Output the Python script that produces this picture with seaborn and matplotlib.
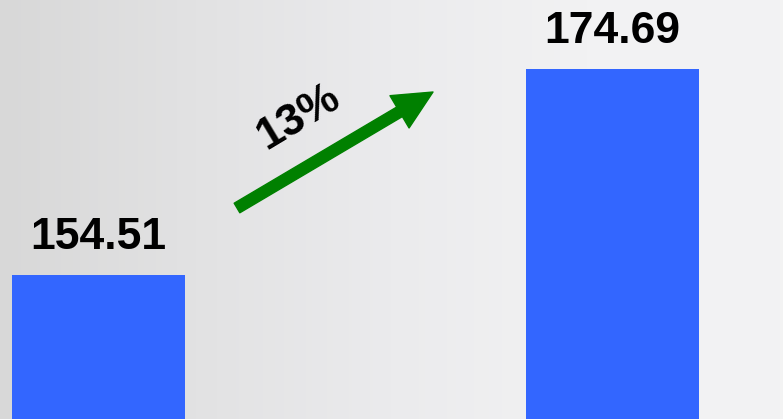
import numpy as np
import pandas as pd
import matplotlib
matplotlib.use("Agg")
import matplotlib.pyplot as plt
import seaborn as sns
from matplotlib.colors import LinearSegmentedColormap

categories = ["Period 1", "Period 2"]
values = [154.51, 174.69]
value_labels = ["154.51", "174.69"]
growth_label = "13%"

sns.set_theme(style="white")
plt.rcParams["font.family"] = ["Liberation Sans", "DejaVu Sans"]

df = pd.DataFrame({"category": categories, "value": values})

fig = plt.figure(figsize=(7.83, 4.19), dpi=100)

# background gradient
bg = fig.add_axes([0, 0, 1, 1], zorder=0)
grad = np.linspace(0, 1, 256)
grad = np.vstack([grad, grad])
cmap = LinearSegmentedColormap.from_list("bg", ["#d8d8d8", "#e2e2e3", "#ebebed", "#f2f2f3", "#f3f3f3"])
bg.imshow(grad, aspect="auto", cmap=cmap, extent=[0, 1, 0, 1])
bg.set_axis_off()

ax = fig.add_axes([0, 0, 1, 1], zorder=1)
ax.patch.set_alpha(0)
sns.barplot(data=df, x="category", y="value", color="#3366FF", saturation=1,
            width=0.337, linewidth=0, edgecolor="none", ax=ax)
ax.set_xlim(-0.1916, 1.3317)
ax.set_ylim(140.40, 181.45)
ax.set_axis_off()

for i, (v, lab) in enumerate(zip(values, value_labels)):
    ax.annotate(lab, xy=(i, v), xytext=(0, 18.5), textcoords="offset points",
                ha="center", va="baseline", fontsize=32, fontweight="bold",
                color="black")

ax.annotate("", xy=(0.553, 0.7804), xytext=(0.3027, 0.5036),
            xycoords="axes fraction", textcoords="axes fraction",
            arrowprops=dict(arrowstyle="simple,head_width=2.7,head_length=2.8,tail_width=0.8",
                            color="#008000", mutation_scale=10, shrinkA=0, shrinkB=0))
ax.text(298 / 783, 1 - 117 / 419, growth_label, transform=ax.transAxes,
        rotation=31, ha="center", va="center", fontsize=32, fontweight="bold",
        color="black", rotation_mode="anchor")

fig.savefig("out.png", dpi=100)
